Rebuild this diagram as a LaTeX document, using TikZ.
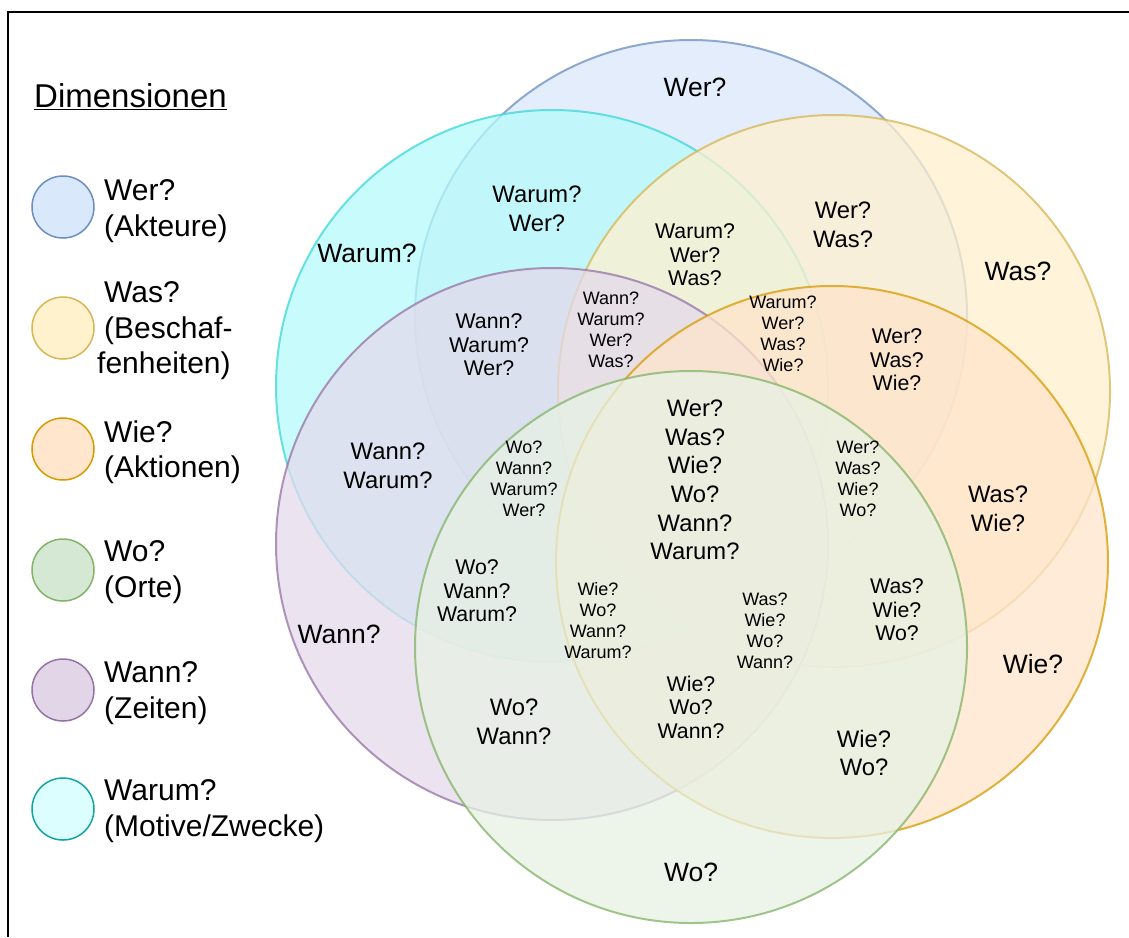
\documentclass[tikz,border=0pt]{standalone}
\usepackage{fontspec}
\setmainfont{Liberation Sans}
\definecolor{werfill}{RGB}{218,231,251}
\definecolor{werline}{HTML}{6C8EBF}
\definecolor{warumfill}{RGB}{182,251,251}
\definecolor{warumline}{RGB}{60,215,215}
\definecolor{wasfill}{RGB}{255,240,206}
\definecolor{wasline}{HTML}{D6B656}
\definecolor{wannfill}{RGB}{228,218,235}
\definecolor{wannline}{HTML}{9673A6}
\definecolor{wiefill}{RGB}{255,228,202}
\definecolor{wieline}{HTML}{D79B00}
\definecolor{wofill}{RGB}{231,242,228}
\definecolor{woline}{HTML}{82B366}
\tikzset{
  venn/.style={line width=2pt, fill opacity=0.75, draw opacity=0.75},
  key/.style={line width=1.5pt},
  legend/.style={font=\fontsize{30}{35.5}\selectfont, align=left, anchor=west, inner sep=0pt},
  big/.style={font=\fontsize{26.5}{31}\selectfont, align=center, inner sep=0pt},
  mid/.style={font=\fontsize{23.8}{28.6}\selectfont, align=center, inner sep=0pt},
  three/.style={font=\fontsize{21.3}{23.5}\selectfont, align=center, inner sep=0pt},
  four/.style={font=\fontsize{18}{21}\selectfont, align=center, inner sep=0pt}
}

\begin{document}
\begin{tikzpicture}[x=1pt,y=-1pt]
\useasboundingbox (0,0) rectangle (1129,937);
\draw[line width=2pt] (8,937) -- (8,12) -- (1129,12);

% the six circles
\filldraw[venn, draw=werline, fill=werfill] (691,316) circle (276);
\filldraw[venn, draw=warumline, fill=warumfill] (552,386) circle (276);
\filldraw[venn, draw=wasline, fill=wasfill] (834,391) circle (276);
\filldraw[venn, draw=wannline, fill=wannfill] (552,544) circle (276);
\filldraw[venn, draw=wieline, fill=wiefill] (832,562) circle (276);
\filldraw[venn, draw=woline, fill=wofill] (691,647) circle (276);

% legend
\node[anchor=base west, inner sep=0pt, font=\fontsize{33}{38}\selectfont] (dim) at (34,107) {\underline{Dimensionen}};
\filldraw[key, draw=werline, fill={rgb,255:red,218;green,232;blue,252}] (63,207) circle (31);
\filldraw[key, draw=wasline, fill={rgb,255:red,255;green,242;blue,204}] (63,328) circle (31);
\filldraw[key, draw=wieline, fill={rgb,255:red,255;green,230;blue,204}] (63,449) circle (31);
\filldraw[key, draw=woline, fill={rgb,255:red,213;green,232;blue,212}] (63,570) circle (31);
\filldraw[key, draw=wannline, fill={rgb,255:red,225;green,213;blue,231}] (63,690) circle (31);
\filldraw[key, draw={rgb,255:red,18;green,165;blue,160}, fill={rgb,255:red,220;green,254;blue,254}] (63,809) circle (31);
\node[legend] (lwer) at (104,211) {Wer?\\(Akteure)};
\node[legend] (lwas) at (104,331) {Was?\\(Beschaf-\\\hspace*{-7pt}fenheiten)};
\node[legend] (lwie) at (104,452) {Wie?\\(Aktionen)};
\node[legend] (lwo) at (104,572) {Wo?\\(Orte)};
\node[legend] (lwann) at (104,693) {Wann?\\(Zeiten)};
\node[legend] (lwarum) at (104,811) {Warum?\\(Motive/Zwecke)};

% single dimensions
\node[big] (wer) at (695,87) {Wer?};
\node[big] (warum) at (367,253) {Warum?};
\node[big] (was) at (1018,271) {Was?};
\node[big] (wann) at (339,634) {Wann?};
\node[big] (wie) at (1033,664) {Wie?};
\node[big] (wo) at (691,872) {Wo?};

% two dimensions
\node[mid] (warumwer) at (537,209) {Warum?\\Wer?};
\node[mid] (werwas) at (843,225) {Wer?\\Was?};
\node[mid] (wannwarum) at (388,466) {Wann?\\Warum?};
\node[mid] (waswie) at (998,509) {Was?\\Wie?};
\node[mid] (wowann) at (514,722) {Wo?\\Wann?};
\node[mid] (wiewo) at (864,753) {Wie?\\Wo?};

% three dimensions
\node[three] (warumwerwas) at (695,255) {Warum?\\Wer?\\Was?};
\node[three] (wannwarumwer) at (489,345) {Wann?\\Warum?\\Wer?};
\node[three] (werwaswie) at (897,360) {Wer?\\Was?\\Wie?};
\node[three] (wowannwarum) at (477,591) {Wo?\\Wann?\\Warum?};
\node[three] (waswiewo) at (897,610) {Was?\\Wie?\\Wo?};
\node[three] (wiewowann) at (691,707) {Wie?\\Wo?\\Wann?};

% four dimensions
\node[four] (wannwarumwerwas) at (611,330) {Wann?\\Warum?\\Wer?\\Was?};
\node[four] (warumwerwaswie) at (783,334) {Warum?\\Wer?\\Was?\\Wie?};
\node[four] (wowannwarumwer) at (524,479) {Wo?\\Wann?\\Warum?\\Wer?};
\node[four] (werwaswiewo) at (858,479) {Wer?\\Was?\\Wie?\\Wo?};
\node[four] (wiewowannwarum) at (598,621) {Wie?\\Wo?\\Wann?\\Warum?};
\node[four] (waswiewowann) at (765,631) {Was?\\Wie?\\Wo?\\Wann?};

% all six
\node[mid] (alle) at (695,480) {Wer?\\Was?\\Wie?\\Wo?\\Wann?\\Warum?};
\end{tikzpicture}
\end{document}
